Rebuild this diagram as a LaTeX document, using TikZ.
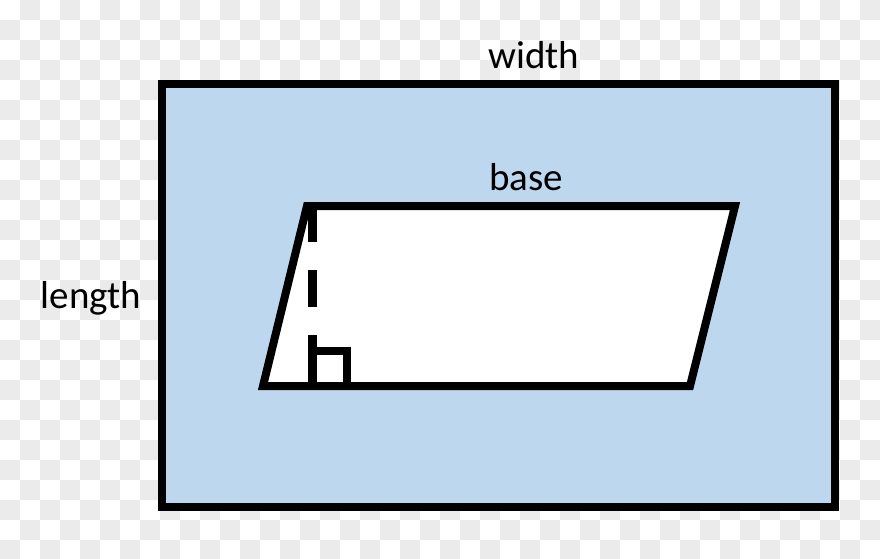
\documentclass[tikz,border=0pt]{standalone}
\usepackage{fontspec}
\setmainfont{Carlito}
\definecolor{chk}{HTML}{EBEBEB}
\definecolor{paleblue}{HTML}{BDD7EE}
\begin{document}
\begin{tikzpicture}[x=1pt,y=-1pt,
  thick line/.style={line width=8pt, line join=miter},
  lbl/.style={font=\fontsize{39}{44}\selectfont, inner sep=0pt, anchor=base}]
\useasboundingbox (0,0) rectangle (880,559);
% transparency checkerboard
\fill[white] (0,0) rectangle (880,559);
\foreach \i in {0,...,43}{
  \foreach \j in {0,...,27}{
    \pgfmathtruncatemacro{\myparity}{mod(\i+\j,2)}
    \ifnum\myparity=1
      \fill[chk] (\i*20,\j*20) rectangle ++(20,20);
    \fi
  }
}
% outer rectangle
\draw[thick line, fill=paleblue] (162,84) rectangle (835,507);
% parallelogram
\coordinate (tl) at (307,206);
\coordinate (tr) at (735,206);
\coordinate (br) at (690,386);
\coordinate (bl) at (263,386);
\draw[thick line, fill=white] (tl) -- (tr) -- (br) -- (bl) -- cycle;
% height (dashed)
\coordinate (h0) at (312,206);
\coordinate (h1) at (312,242);
\coordinate (h2) at (312,270);
\coordinate (h3) at (312,307);
\coordinate (h4) at (312,335);
\coordinate (h5) at (312,386);
\draw[line width=9pt] (h0) -- (h1) (h2) -- (h3) (h4) -- (h5);
% right-angle mark
\coordinate (r1) at (312,351);
\coordinate (r2) at (347,351);
\coordinate (r3) at (347,386);
\draw[thick line] (r1) -- (r2) -- (r3);
% labels
\node[lbl] (width) at (534,69) {width};
\node[lbl] (base) at (526,190) {base};
\node[lbl] (length) at (91,308) {length};
\end{tikzpicture}
\end{document}
